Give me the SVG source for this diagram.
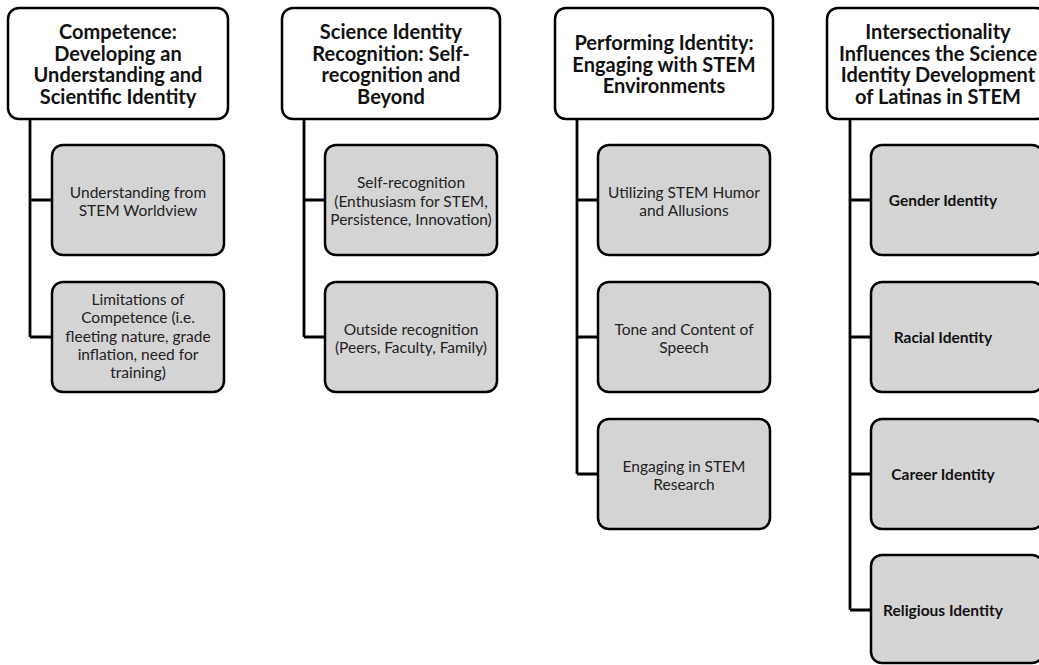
<svg xmlns="http://www.w3.org/2000/svg" width="1039" height="665" viewBox="0 0 1039 665">
<style>
.hdr{fill:#ffffff;stroke:#000;stroke-width:2.5}
.box{fill:#d4d4d4;stroke:#000;stroke-width:2.5}
.ht{font-family:Lato,"Liberation Sans",sans-serif;font-weight:bold;font-size:20px;text-anchor:middle;fill:#111}
.ct{font-family:Lato,"Liberation Sans",sans-serif;font-size:15.5px;text-anchor:middle;fill:#222}
.cb{font-family:Lato,"Liberation Sans",sans-serif;font-size:15.5px;font-weight:bold;text-anchor:middle;fill:#111}
.ln{fill:none;stroke:#000;stroke-width:2.8}
</style>
<rect width="1039" height="665" fill="#fff"/>
<g id="connectors">
<path class="ln" d="M30,119 V337 M30,200 H52 M30,337 H52"/>
<path class="ln" d="M304,119 V337 M304,200 H325 M304,337 H325"/>
<path class="ln" d="M577,119 V474 M577,200 H598 M577,337 H598 M577,474 H598"/>
<path class="ln" d="M850,119 V610 M850,200 H871 M850,337 H871 M850,474 H871 M850,610 H871"/>
</g>
<g id="h1">
<rect class="hdr" x="8" y="8" width="220" height="111" rx="11"/>
<text class="ht" x="118" y="39">Competence:</text>
<text class="ht" x="118" y="60.7">Developing an</text>
<text class="ht" x="118" y="82.4">Understanding and</text>
<text class="ht" x="118" y="104.1">Scientific Identity</text>
</g>
<g id="c1a">
<rect class="box" x="52" y="145" width="172" height="110" rx="11"/>
<text class="ct" x="138" y="197.5">Understanding from</text>
<text class="ct" x="138" y="215.8">STEM Worldview</text>
</g>
<g id="c1b">
<rect class="box" x="52" y="282" width="172" height="110" rx="11"/>
<text class="ct" x="138" y="305">Limitations of</text>
<text class="ct" x="138" y="323.3">Competence (i.e.</text>
<text class="ct" x="138" y="341.6">fleeting nature, grade</text>
<text class="ct" x="138" y="359.9">inflation, need for</text>
<text class="ct" x="138" y="378.2">training)</text>
</g>
<g id="h2">
<rect class="hdr" x="282" y="8" width="218" height="111" rx="11"/>
<text class="ht" x="391" y="39">Science Identity</text>
<text class="ht" x="391" y="60.7">Recognition: Self-</text>
<text class="ht" x="391" y="82.4">recognition and</text>
<text class="ht" x="391" y="104.1">Beyond</text>
</g>
<g id="c2a">
<rect class="box" x="325" y="145" width="172" height="110" rx="11"/>
<text class="ct" x="411" y="188.4">Self-recognition</text>
<text class="ct" x="411" y="206.7">(Enthusiasm for STEM,</text>
<text class="ct" x="411" y="225">Persistence, Innovation)</text>
</g>
<g id="c2b">
<rect class="box" x="325" y="282" width="172" height="110" rx="11"/>
<text class="ct" x="411" y="334.5">Outside recognition</text>
<text class="ct" x="411" y="352.8">(Peers, Faculty, Family)</text>
</g>
<g id="h3">
<rect class="hdr" x="555" y="8" width="218" height="111" rx="11"/>
<text class="ht" x="664" y="49.8">Performing Identity:</text>
<text class="ht" x="664" y="71.5">Engaging with STEM</text>
<text class="ht" x="664" y="93.2">Environments</text>
</g>
<g id="c3a">
<rect class="box" x="598" y="145" width="172" height="110" rx="11"/>
<text class="ct" x="684" y="197.5">Utilizing STEM Humor</text>
<text class="ct" x="684" y="215.8">and Allusions</text>
</g>
<g id="c3b">
<rect class="box" x="598" y="282" width="172" height="110" rx="11"/>
<text class="ct" x="684" y="334.5">Tone and Content of</text>
<text class="ct" x="684" y="352.8">Speech</text>
</g>
<g id="c3c">
<rect class="box" x="598" y="419" width="172" height="110" rx="11"/>
<text class="ct" x="684" y="471.5">Engaging in STEM</text>
<text class="ct" x="684" y="489.8">Research</text>
</g>
<g id="h4">
<rect class="hdr" x="827" y="8" width="220" height="111" rx="11"/>
<text class="ht" x="938" y="39">Intersectionality</text>
<text class="ht" x="938" y="60.7">Influences the Science</text>
<text class="ht" x="938" y="82.4">Identity Development</text>
<text class="ht" x="938" y="104.1">of Latinas in STEM</text>
</g>
<g id="c4a">
<rect class="box" x="871" y="145" width="172" height="110" rx="11"/>
<text class="cb" x="943" y="205.5">Gender Identity</text>
</g>
<g id="c4b">
<rect class="box" x="871" y="282" width="172" height="110" rx="11"/>
<text class="cb" x="943" y="342.5">Racial Identity</text>
</g>
<g id="c4c">
<rect class="box" x="871" y="419" width="172" height="110" rx="11"/>
<text class="cb" x="943" y="479.5">Career Identity</text>
</g>
<g id="c4d">
<rect class="box" x="871" y="555" width="172" height="108" rx="11"/>
<text class="cb" x="943" y="615.5">Religious Identity</text>
</g>
</svg>
